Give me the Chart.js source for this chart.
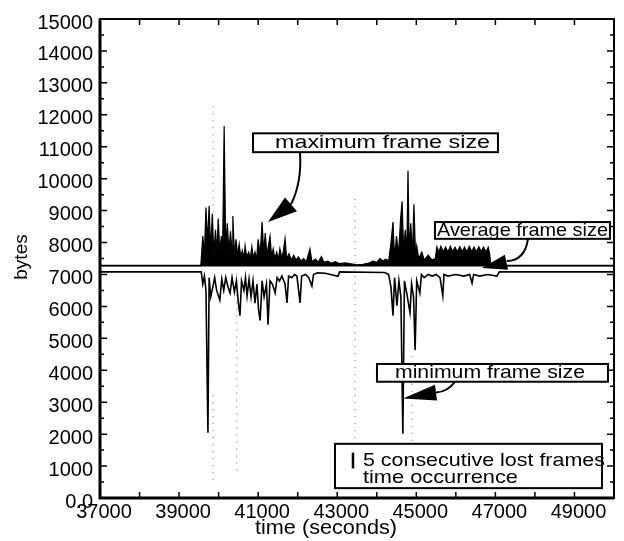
<!DOCTYPE html>
<html>
<head>
<meta charset="utf-8">
<script src="https://cdn.jsdelivr.net/npm/chart.js@4.4.0/dist/chart.umd.min.js"></script>
<style>
  html, body { margin: 0; padding: 0; background: #fff; }
  canvas { display: block; }
</style>
</head>
<body>
<canvas id="frameChart" width="624" height="541"></canvas>
<script>
// axis ticks
var xTicks = [37000, 39000, 41000, 43000, 45000, 47000, 49000];
var yTicks = [0, 1000, 2000, 3000, 4000, 5000, 6000, 7000, 8000, 9000, 10000, 11000, 12000, 13000, 14000, 15000];
var yTickLabels = ['0.0', '1000', '2000', '3000', '4000', '5000', '6000', '7000', '8000', '9000', '10000', '11000', '12000', '13000', '14000', '15000'];

// average frame size (flat line)
var avgTime = [37000, 50000];
var avgBytes = [7280, 7280];

// maximum frame size
var maxTime = [37000, 39550, 39600, 39640, 39680, 39720, 39760, 39800, 39840, 39880, 39920, 39960, 39990, 40030, 40070, 40100,
  40140, 40180, 40220, 40260, 40300, 40340, 40360, 40400, 40440, 40480, 40520, 40560, 40600, 40640, 40670, 40710,
  40760, 40800, 40840, 40880, 40920, 40960, 41000, 41050, 41100, 41140, 41180, 41220, 41260, 41300, 41340, 41380,
  41420, 41470, 41510, 41550, 41600, 41640, 41680, 41720, 41780, 41840, 41900, 41960, 42020, 42080, 42150, 42220,
  42310, 42360, 42450, 42520, 42600, 42660, 42760, 42850, 42950, 43050, 43200, 43350, 43500, 43650, 43800, 43900,
  44000, 44080, 44150, 44230, 44300, 44360, 44410, 44450, 44500, 44550, 44600, 44640, 44680, 44720, 44760, 44790,
  44820, 44860, 44900, 44940, 44980, 45010, 45060, 45140, 45200, 45300, 45400, 45480, 45520, 45570, 45620, 45680,
  45740, 45800, 45860, 45920, 45980, 46040, 46100, 46160, 46220, 46280, 46340, 46400, 46460, 46520, 46580, 46640,
  46700, 46760, 46820, 46860, 46880, 50000];
var maxBytes = [7280, 7280, 8200, 7600, 9100, 8000, 9150, 7700, 8900, 7600, 8400, 7700, 8750, 7700, 8200, 7600,
  11650, 7800, 8600, 7700, 8350, 7700, 8830, 7600, 8100, 7600, 7950, 7550, 7750, 7500, 7900, 7550,
  7700, 7500, 7870, 7500, 7700, 7450, 8100, 7600, 8650, 7700, 8300, 7600, 7900, 8200, 7550, 7800,
  7500, 7700, 7450, 7810, 7500, 7750, 8120, 7500, 7650, 7450, 7600, 7450, 7550, 7420, 7500, 7400,
  7800, 7400, 7480, 7380, 7560, 7380, 7420, 7350, 7400, 7340, 7360, 7330, 7300, 7320, 7360, 7420,
  7380, 7500, 7420, 7480, 7420, 8000, 8640, 7500, 8200, 7600, 8700, 9290, 7700, 8400, 7600, 10250,
  7700, 8600, 7600, 9200, 7600, 7900, 7500, 7700, 7450, 7600, 7450, 7500, 7870, 7700, 7880, 7720,
  7860, 7700, 7880, 7720, 7850, 7700, 7870, 7720, 7860, 7700, 7880, 7720, 7860, 7700, 7870, 7720,
  7860, 7700, 7850, 7600, 7280, 7280];

// minimum frame size
var minTime = [37000, 39560, 39600, 39640, 39680, 39730, 39760, 39800, 39860, 39900, 39950, 40030, 40080, 40130, 40180, 40240,
  40290, 40340, 40400, 40450, 40500, 40540, 40580, 40640, 40680, 40720, 40770, 40820, 40870, 40920, 40970, 41010,
  41050, 41100, 41150, 41210, 41250, 41300, 41360, 41430, 41480, 41540, 41600, 41680, 41730, 41770, 41850, 41920,
  41980, 42060, 42100, 42200, 42280, 42360, 42400, 42500, 42700, 43020, 43060, 44200, 44300, 44360, 44410, 44450,
  44510, 44560, 44610, 44660, 44700, 44760, 44840, 44880, 44930, 44970, 45010, 45090, 45130, 45200, 45300, 45400,
  45500, 45600, 45670, 45700, 45800, 46000, 46200, 46350, 46410, 46450, 46600, 46800, 47040, 47100, 50000];
var minBytes = [7080, 7080, 6700, 6950, 6500, 2040, 6900, 6300, 6640, 6900, 6500, 6200, 6850, 6500, 6900, 6600,
  6420, 6900, 6450, 6800, 6100, 5710, 6800, 6500, 6900, 6330, 6850, 6300, 6800, 6100, 6700, 5900,
  5560, 6800, 6300, 6700, 5430, 6800, 6700, 6420, 6900, 6800, 6950, 6700, 6110, 6950, 6900, 7000,
  6950, 6110, 6950, 7000, 6900, 6640, 7000, 7050, 7040, 6940, 7080, 7060, 7000, 6600, 5710, 6900,
  6020, 6800, 6300, 2010, 6800, 6400, 5800, 6700, 6300, 4630, 6800, 6420, 7000, 6900, 7000, 6950,
  7000, 6900, 6330, 7000, 6950, 7000, 6950, 7000, 6730, 7000, 6950, 7000, 6950, 7080, 7080];

// 5 consecutive lost frames, time occurrence (dotted marks)
var lostTime = [39860, 39860, 40460, 43450, 44890];
var lostLow = [8730, 560, 860, 560, 1790];
var lostHigh = [12440, 3330, 7040, 9500, 4570];

var FONT = '"Liberation Sans", Arial, Helvetica, sans-serif';

function pts(xs, ys) {
    return xs.map(function (t, i) { return { x: t, y: ys[i] }; });
}

var datasets = [
    {
        label: 'maximum frame size',
        data: pts(maxTime, maxBytes),
        borderColor: '#000',
        backgroundColor: '#000',
        borderWidth: 1.2,
        fill: { value: 7280 }
    },
    {
        label: 'minimum frame size',
        data: pts(minTime, minBytes),
        borderColor: '#000',
        borderWidth: 1.6,
        fill: false
    },
    {
        label: 'Average frame size',
        data: pts(avgTime, avgBytes),
        borderColor: '#000',
        borderWidth: 1.8,
        fill: false
    }
];
lostTime.forEach(function (t, i) {
    datasets.push({
        label: 'lost frames',
        data: [{ x: t, y: lostLow[i] }, { x: t, y: lostHigh[i] }],
        borderColor: '#666',
        borderWidth: 1,
        borderDash: [1, 6],
        fill: false
    });
});

// annotation boxes, in data units
var notes = [
    { lines: ['maximum frame size'], x1: 40870, x2: 47065, y1: 11420, y2: 10830, tx: 41426, tw: 215, ty: [11130] },
    { lines: ['Average frame size'], x1: 45472, x2: 49897, y1: 8641, y2: 8116, tx: 45523, tw: 171, ty: [8380] },
    { lines: ['minimum frame size'], x1: 44005, x2: 49848, y1: 4197, y2: 3641, tx: 44460, tw: 190, ty: [3920] },
    { lines: ['5 consecutive lost frames', 'time occurrence'], x1: 42943, x2: 49696, y1: 1697, y2: 309, tx: 43650, tw: [242, 155], ty: [1173, 648] }
];
// arrows: curve start, control, curve end, then head tip and two base corners
var arrows = [
    { c: [[42058, 10830], [42109, 9875], [41830, 9196]], tip: [41249, 8641], b1: [41679, 9412], b2: [41982, 8980] },
    { c: [[47824, 8116], [47750, 7440], [47290, 7420]], tip: [46660, 7200], b1: [47240, 7620], b2: [47320, 7150] },
    { c: [[45978, 3641], [45801, 3333], [45497, 3302]], tip: [44663, 3117], b1: [45472, 3549], b2: [45523, 3055] }
];

function fitText(ctx, str, left, cy, width, size) {
    ctx.save();
    ctx.font = size + 'px ' + FONT;
    var w = ctx.measureText(str).width;
    ctx.translate(left, cy);
    ctx.scale(width / w, 1);
    ctx.textAlign = 'left';
    ctx.textBaseline = 'middle';
    ctx.fillStyle = '#000';
    ctx.fillText(str, 0, 0);
    ctx.restore();
}

var decor = {
    id: 'decor',
    afterDraw: function (chart) {
        var ctx = chart.ctx;
        var xs = chart.scales.x, ys = chart.scales.y;
        var a = chart.chartArea;
        var X = function (v) { return xs.getPixelForValue(v); };
        var Y = function (v) { return ys.getPixelForValue(v); };
        ctx.save();
        ctx.strokeStyle = '#000';

        // inward ticks on all four sides
        ctx.lineWidth = 1.5;
        ctx.beginPath();
        for (var v = 0; v <= 15000; v += 500) {
            var len = v % 1000 === 0 ? 7 : 4;
            ctx.moveTo(a.left, Y(v)); ctx.lineTo(a.left + len, Y(v));
            ctx.moveTo(a.right, Y(v)); ctx.lineTo(a.right - len, Y(v));
        }
        for (var t = 38000; t < 50000; t += 1000) {
            ctx.moveTo(X(t), a.bottom); ctx.lineTo(X(t), a.bottom - 6);
            ctx.moveTo(X(t), a.top); ctx.lineTo(X(t), a.top + 6);
        }
        ctx.stroke();

        // frame
        ctx.lineWidth = 2;
        ctx.strokeRect(a.left, a.top, a.right - a.left, a.bottom - a.top);
        ctx.lineWidth = 3;
        ctx.beginPath();
        ctx.moveTo(a.left, a.top); ctx.lineTo(a.left, a.bottom); ctx.lineTo(a.right, a.bottom);
        ctx.stroke();

        // arrows
        arrows.forEach(function (ar) {
            ctx.lineWidth = 2;
            ctx.beginPath();
            ctx.moveTo(X(ar.c[0][0]), Y(ar.c[0][1]));
            ctx.quadraticCurveTo(X(ar.c[1][0]), Y(ar.c[1][1]), X(ar.c[2][0]), Y(ar.c[2][1]));
            ctx.stroke();
            ctx.beginPath();
            ctx.moveTo(X(ar.tip[0]), Y(ar.tip[1]));
            ctx.lineTo(X(ar.b1[0]), Y(ar.b1[1]));
            ctx.lineTo(X(ar.b2[0]), Y(ar.b2[1]));
            ctx.closePath();
            ctx.fillStyle = '#000';
            ctx.fill();
        });

        // boxes with text
        notes.forEach(function (n) {
            var l = X(n.x1), r = X(n.x2), tp = Y(n.y1), bt = Y(n.y2);
            ctx.fillStyle = '#fff';
            ctx.fillRect(l, tp, r - l, bt - tp);
            ctx.lineWidth = 2;
            ctx.strokeRect(l, tp, r - l, bt - tp);
            n.lines.forEach(function (s, i) {
                var w = Array.isArray(n.tw) ? n.tw[i] : n.tw;
                fitText(ctx, s, X(n.tx), Y(n.ty[i]), w, 19);
            });
        });
        // lost frames marker in the legend box
        ctx.lineWidth = 2.5;
        ctx.beginPath();
        ctx.moveTo(X(43398), Y(1420)); ctx.lineTo(X(43398), Y(926));
        ctx.stroke();

        // axis titles
        fitText(ctx, 'time (seconds)', 255, 528, 142, 20);
        ctx.save();
        ctx.translate(22, 257);
        ctx.rotate(-Math.PI / 2);
        ctx.font = '19px ' + FONT;
        ctx.fillStyle = '#000';
        ctx.textAlign = 'center';
        ctx.textBaseline = 'middle';
        ctx.fillText('bytes', 0, 0);
        ctx.restore();

        ctx.restore();
    }
};

var ctx = document.getElementById('frameChart').getContext('2d');

var frameChart = new Chart(ctx, {
    type: 'scatter',
    data: { datasets: datasets },
    options: {
        responsive: false,
        animation: false,
        showLine: true,
        elements: {
            point: { radius: 0, hoverRadius: 0 },
            line: { tension: 0 }
        },
        layout: { padding: { top: 12, right: 10, left: 0, bottom: 0 } },
        plugins: {
            legend: { display: false },
            tooltip: { enabled: false }
        },
        scales: {
            x: {
                type: 'linear',
                min: 37000,
                max: 50000,
                grid: { display: false, drawTicks: false },
                border: { display: false },
                afterBuildTicks: function (scale) {
                    scale.ticks = xTicks.map(function (v) { return { value: v }; });
                },
                afterFit: function (scale) { scale.height = 43; },
                ticks: {
                    color: '#000',
                    padding: 2,
                    labelOffset: 4,
                    maxRotation: 0,
                    autoSkip: false,
                    font: { family: FONT, size: 20 },
                    callback: function (v) { return String(v); }
                }
            },
            y: {
                type: 'linear',
                min: 0,
                max: 15000,
                grid: { display: false, drawTicks: false },
                border: { display: false },
                afterBuildTicks: function (scale) {
                    scale.ticks = yTicks.map(function (v) { return { value: v }; });
                },
                afterFit: function (scale) { scale.width = 100; },
                ticks: {
                    color: '#000',
                    padding: 7,
                    labelOffset: 4,
                    autoSkip: false,
                    font: { family: FONT, size: 20 },
                    callback: function (v) { return yTickLabels[yTicks.indexOf(v)]; }
                }
            }
        }
    },
    plugins: [decor]
});
</script>
</body>
</html>
